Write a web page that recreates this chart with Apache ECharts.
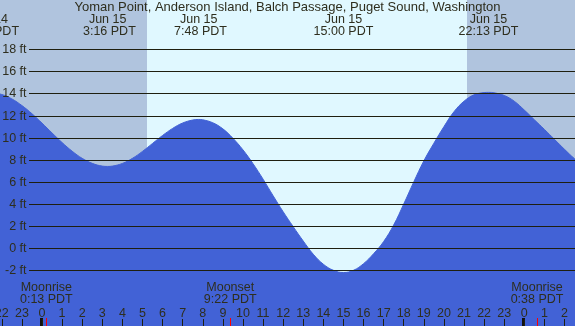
<!DOCTYPE html>
<html><head><meta charset="utf-8">
<script src="https://cdn.jsdelivr.net/npm/echarts@6/dist/echarts.min.js"></script>
<style>html,body{margin:0;padding:0;background:#b0c4de}#c{width:575px;height:326px}</style>
</head><body><div id="c"></div>
<script>
// ---- data ----
const titleText = 'Yoman Point, Anderson Island, Balch Passage, Puget Sound, Washington';
const tideHours = [-3, -2.63, -2, -1.5, -1, -0.5, 0, 0.5, 1, 1.5, 2, 2.5, 3, 3.267, 3.5, 4, 4.5, 5, 5.5, 6, 6.5, 7, 7.5, 7.8,
  8, 8.5, 9, 9.5, 10, 10.5, 11, 11.5, 12, 12.5, 13, 13.5, 14, 14.5, 15, 15.5, 16, 16.5, 17, 17.5, 18, 18.5, 19, 19.5,
  20, 20.5, 21, 21.5, 22, 22.217, 22.5, 23, 23.5, 24, 24.5, 25, 25.5, 26, 26.5, 27];
const tideFeet = [14.05, 14.1, 13.91, 13.51, 12.91, 12.17, 11.32, 10.43, 9.56, 8.78, 8.13, 7.68, 7.43, 7.4, 7.43, 7.67, 8.13, 8.76, 9.48, 10.2, 10.84, 11.33, 11.6, 11.65,
  11.62, 11.35, 10.8, 9.95, 8.9, 7.65, 6.25, 4.75, 3.3, 1.95, 0.65, -0.55, -1.45, -2.0, -2.2, -2.0, -1.4, -0.5, 0.6, 2.1, 4.0, 6.0, 7.9, 9.5,
  11.0, 12.35, 13.3, 13.88, 14.08, 14.1, 14.06, 13.82, 13.3, 12.5, 11.62, 10.75, 9.85, 8.95, 8.1, 7.45];
const eventHours = [-2.63, 3.267, 7.8, 15.0, 22.217];
const eventDates = ['Jun 14', 'Jun 15', 'Jun 15', 'Jun 15', 'Jun 15'];
const eventTimes = ['21:22 PDT', ' 3:16 PDT', ' 7:48 PDT', '15:00 PDT', '22:13 PDT'];
const moonHours = [0.217, 9.367, 24.633];
const moonNames = ['Moonrise', 'Moonset', 'Moonrise'];
const moonTimes = ['0:13 PDT', '9:22 PDT', '0:38 PDT'];
const midnightHours = [0, 24];
const daylight = [5.21, 21.13];
const yTicks = [-2, 0, 2, 4, 6, 8, 10, 12, 14, 16, 18];

// ---- styles ----
const FONT_FAMILY = '"Liberation Sans", Arial, sans-serif';
const FONT = '12.5px ' + FONT_FAMILY;
const TEXT = '#2e2e1e';
const LINE = '#1f1f0f';
const NIGHT = '#b0c4de';
const DAY = '#e0f8ff';
const WATER = '#4262d6';

function txt(x, y, text) {
  return { type: 'text', x: x, y: y,
    style: { text: text, font: FONT, fill: TEXT, align: 'center', verticalAlign: 'middle',
             textAlign: 'center', textVerticalAlign: 'middle' } };
}

const chart = echarts.init(document.getElementById('c'), null, { renderer: 'canvas' });
chart.setOption({
  animation: false,
  backgroundColor: NIGHT,
  title: {
    text: titleText, left: 'center', top: 0.5, padding: 0,
    textStyle: { fontSize: 13, fontWeight: 'normal', color: TEXT, fontFamily: FONT_FAMILY }
  },
  grid: { left: -18.3, right: -9.6, top: 0, bottom: 0, outerBoundsMode: 'none' },
  xAxis: {
    type: 'value', min: -3, max: 27, interval: 1, z: 10,
    axisLine: { show: false, onZero: false },
    splitLine: { show: false },
    axisTick: { inside: true, length: 7, lineStyle: { color: LINE, width: 1 } },
    axisLabel: {
      inside: true, margin: 6, color: TEXT, fontSize: 12.5, fontFamily: FONT_FAMILY,
      formatter: v => String(((v % 24) + 24) % 24)
    }
  },
  yAxis: { type: 'value', min: -7.04, max: 22.46, show: false },
  series: [
    { // daylight band
      type: 'custom', z: 1, silent: true,
      data: [daylight],
      renderItem: function (params, api) {
        const a = Math.round(api.coord([api.value(0), 0])[0]);
        const b = Math.round(api.coord([api.value(1), 0])[0]);
        return { type: 'rect', shape: { x: a, y: 0, width: b - a, height: api.getHeight() },
                 style: { fill: DAY } };
      }
    },
    { // tide
      type: 'line', z: 2, silent: true,
      data: tideHours.map((h, i) => [h, tideFeet[i]]),
      smooth: 0.4, showSymbol: false,
      lineStyle: { color: WATER, width: 1 },
      areaStyle: { color: WATER, opacity: 1, origin: 'start' }
    },
    { // horizontal grid lines + labels
      type: 'custom', z: 3, silent: true,
      data: yTicks.map(v => [0, v]),
      renderItem: function (params, api) {
        const y = Math.round(api.coord([0, api.value(1)])[1]) + 0.5;
        return { type: 'group', children: [
          { type: 'line', shape: { x1: 29, y1: y, x2: api.getWidth(), y2: y },
            style: { stroke: LINE, lineWidth: 1 } },
          { type: 'text', x: 26.5, y: y,
            style: { text: api.value(1) + ' ft', font: FONT, fill: TEXT,
                     align: 'right', verticalAlign: 'middle', textAlign: 'right', textVerticalAlign: 'middle' } }
        ] };
      }
    },
    { // tide event labels
      type: 'custom', z: 4, silent: true,
      data: eventHours.map(h => [h, 0]),
      renderItem: function (params, api) {
        const x = api.coord([api.value(0), 0])[0];
        const i = params.dataIndex;
        return { type: 'group', children: [txt(x, 19.5, eventDates[i]), txt(x, 31.5, eventTimes[i])] };
      }
    },
    { // moon labels
      type: 'custom', z: 4, silent: true,
      data: moonHours.map(h => [h, 0]),
      renderItem: function (params, api) {
        const x = api.coord([api.value(0), 0])[0];
        const i = params.dataIndex;
        return { type: 'group', children: [txt(x, 287.5, moonNames[i]), txt(x, 299.5, moonTimes[i])] };
      }
    },
    { // midnight marks
      type: 'custom', z: 5, silent: true,
      data: midnightHours.map(h => [h, 0]),
      renderItem: function (params, api) {
        const x = Math.round(api.coord([api.value(0), 0])[0]);
        const H = api.getHeight();
        return { type: 'rect', shape: { x: x - 2, y: H - 8, width: 3, height: 8 }, style: { fill: '#111111' } };
      }
    },
    { // moon event marks
      type: 'custom', z: 5, silent: true,
      data: moonHours.map(h => [h, 0]),
      renderItem: function (params, api) {
        const x = Math.floor(api.coord([api.value(0), 0])[0]);
        const H = api.getHeight();
        return { type: 'rect', shape: { x: x, y: H - 8, width: 1, height: 8 }, style: { fill: '#ff0000' } };
      }
    }
  ]
});
</script>
</body></html>
